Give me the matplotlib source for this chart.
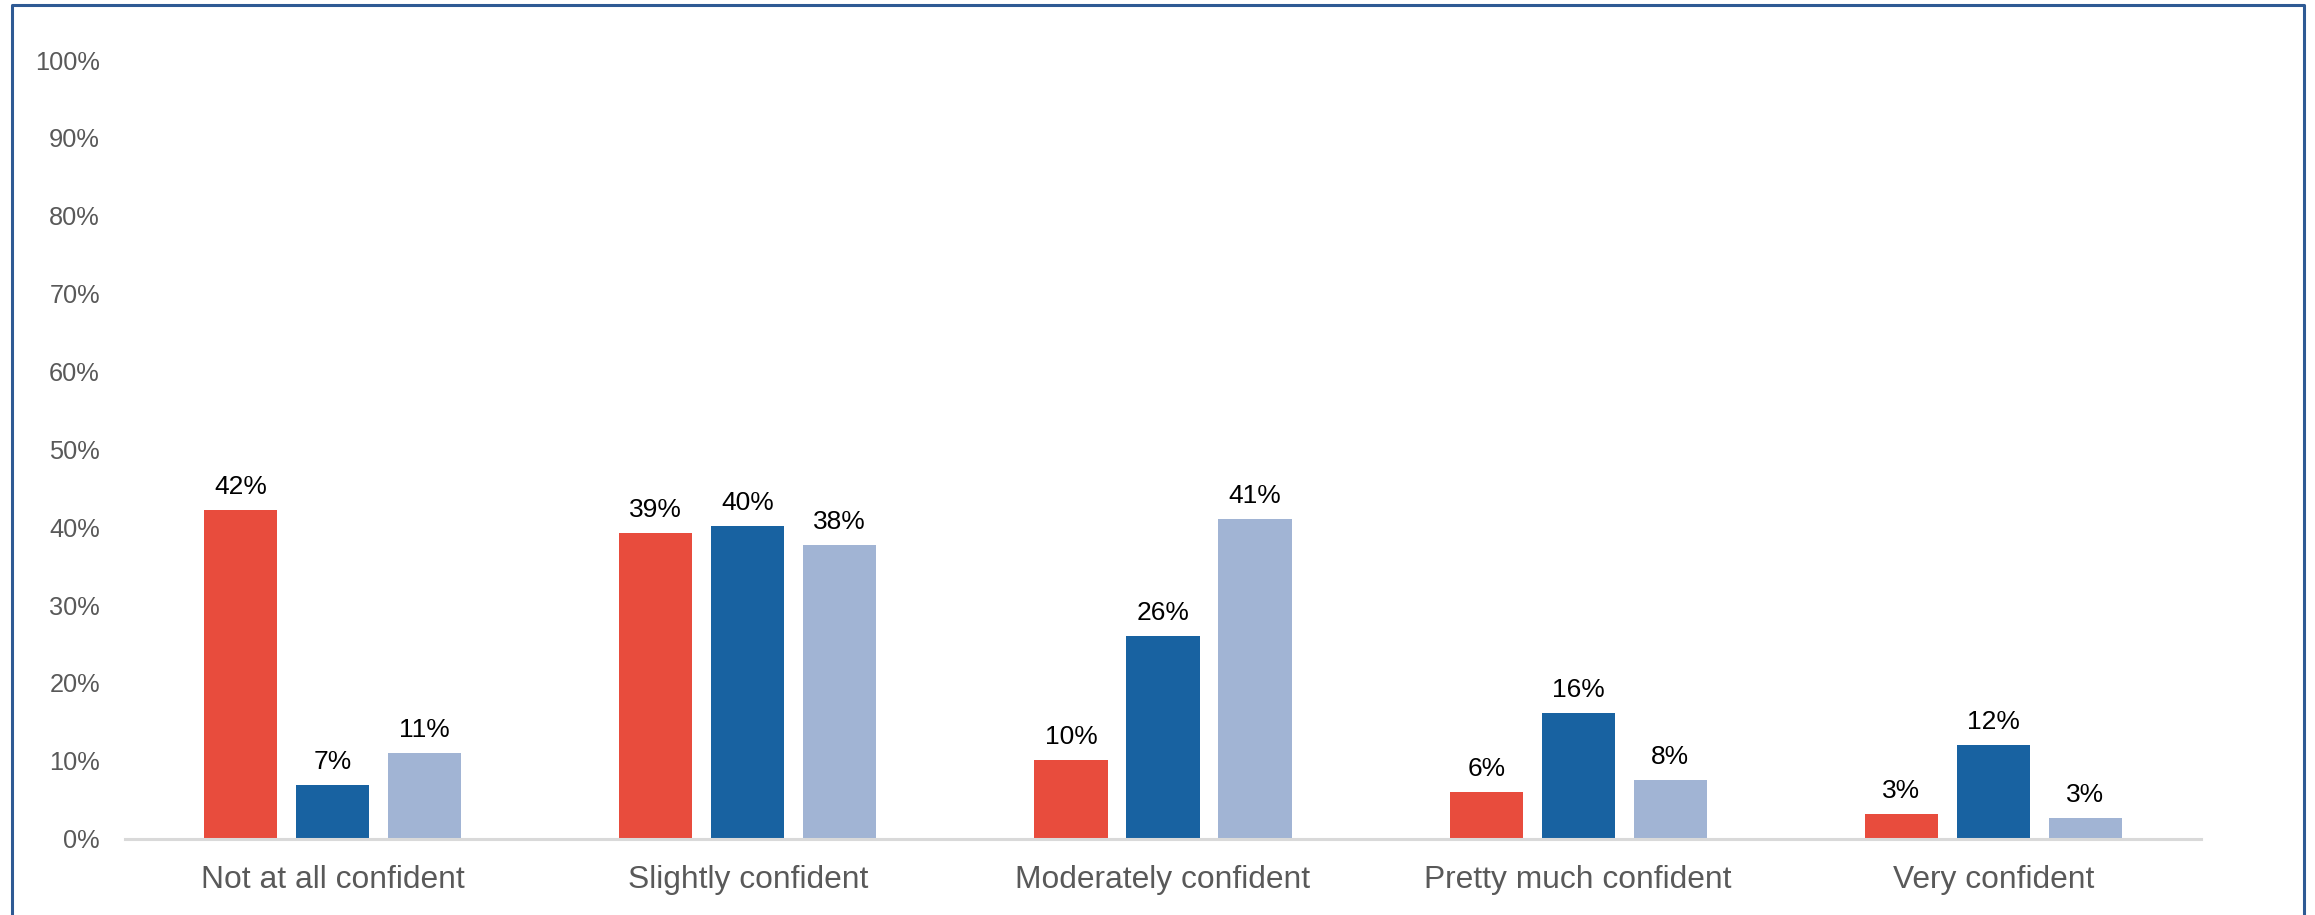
import numpy as np
import matplotlib
matplotlib.use("Agg")
import matplotlib.pyplot as plt
from matplotlib.lines import Line2D

plt.rcParams['font.family'] = ['Liberation Sans', 'DejaVu Sans']

# Confidence levels and the three response groups (percent)
categories = ["Not at all confident", "Slightly confident", "Moderately confident",
              "Pretty much confident", "Very confident"]
group_red = [42.2, 39.2, 10.1, 6.0, 3.2]
group_blue = [6.9, 40.1, 26.0, 16.1, 12.0]
group_light = [11.0, 37.7, 41.1, 7.6, 2.6]
y_ticks = list(range(0, 101, 10))

colors = ["#E84C3D", "#1862A1", "#A1B4D4"]
series = [group_red, group_blue, group_light]

W, H = 2315, 915
fig = plt.figure(figsize=(W / 100, H / 100), dpi=100)
ax = fig.add_axes([125 / W, (H - 838.7) / H, (2201 - 125) / W, (838.7 - 60) / H])

x = np.arange(len(categories))
bar_w = 0.176
pitch = 0.2216

for i, (vals, col) in enumerate(zip(series, colors)):
    xs = x + (i - 1) * pitch
    ax.bar(xs, vals, width=bar_w, color=col, zorder=2)
    for xi, v in zip(xs, vals):
        ax.annotate(f"{v:.0f}%", (xi, v), xytext=(0, 11.5), textcoords="offset points",
                    ha="center", va="baseline", fontsize=19, color="black")

ax.set_xlim(-0.5, len(categories) - 0.5)
ax.set_ylim(0, 100)
ax.set_yticks(y_ticks)
ax.set_yticklabels([f"{t}%" for t in y_ticks], fontsize=18.3, color="#595959")
ax.tick_params(axis="y", length=0, pad=18)
ax.set_xticks([])

for s in ["top", "right", "left"]:
    ax.spines[s].set_visible(False)
ax.spines["bottom"].set_color("#D9D9D9")
ax.spines["bottom"].set_linewidth(2.2)
ax.spines["bottom"].set_zorder(3)

# category names under the axis
for xi, name in zip(x, categories):
    ax.text(xi, -6.37, name, ha="center", va="baseline", fontsize=22.9,
            color="#595959", clip_on=False)

# chart frame (open at the bottom)
frame_x = [11.7 / W, 11.7 / W, 2304 / W, 2304 / W]
frame_y = [-0.05, 1 - 4.7 / H, 1 - 4.7 / H, -0.05]
fig.add_artist(Line2D(frame_x, frame_y, transform=fig.transFigure,
                      color="#2E5A94", linewidth=2.2))

fig.savefig("out.png", dpi=100)
